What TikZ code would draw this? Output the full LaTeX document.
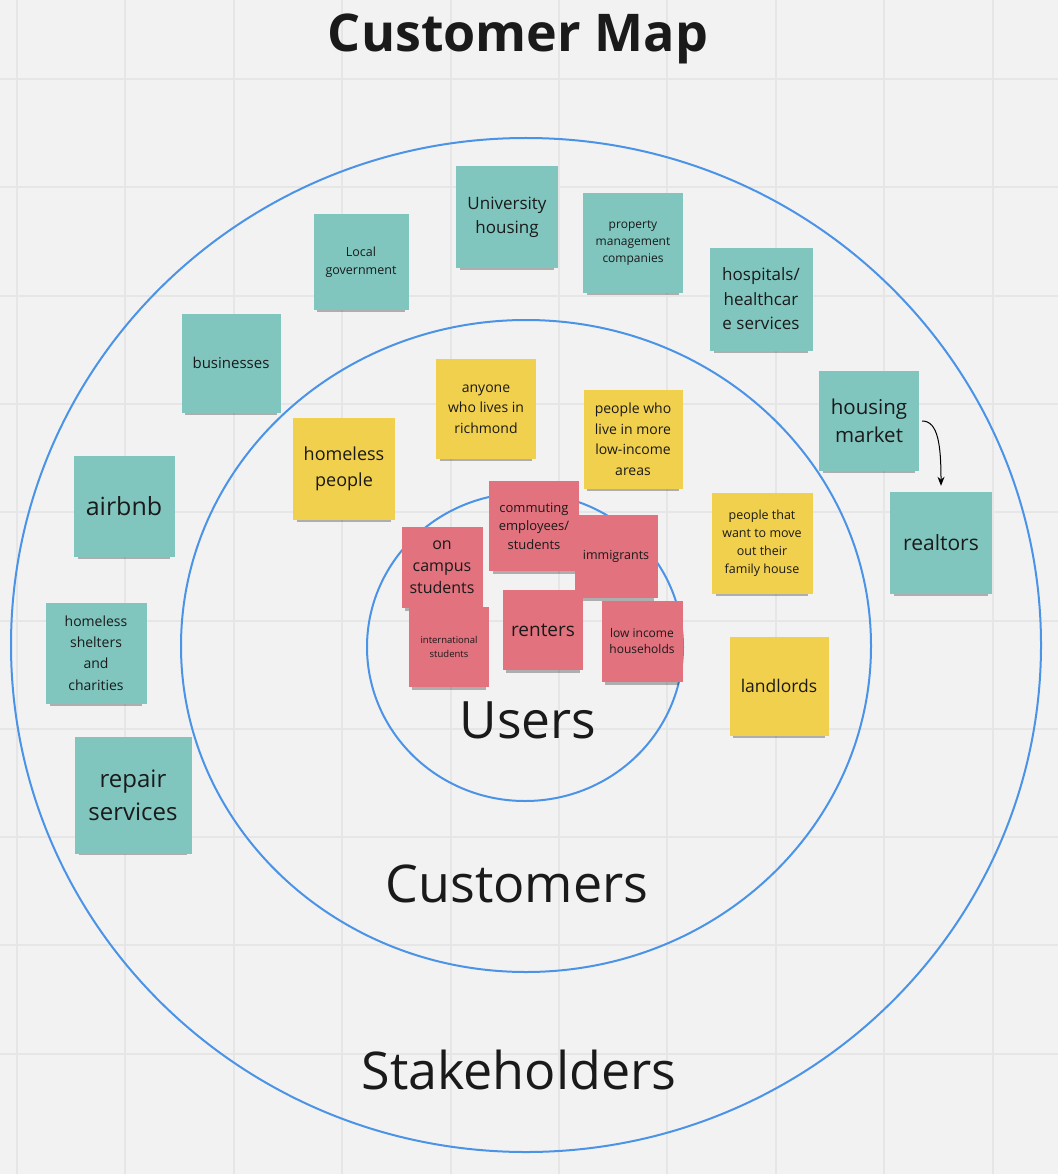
\documentclass[tikz,border=0pt]{standalone}
\usepackage{fontspec}
\setmainfont{Open Sans}
\usetikzlibrary{arrows.meta,shadows}
\definecolor{boardbg}{HTML}{F2F2F2}
\definecolor{gridgray}{HTML}{E6E6E6}
\definecolor{ringblue}{HTML}{4A93E6}
\definecolor{inkgray}{HTML}{1A1A1A}
\definecolor{noteteal}{HTML}{80C6BF}
\definecolor{noteyellow}{HTML}{F1D04E}
\definecolor{notepink}{HTML}{E1727E}
\tikzset{
	note/.style={align=center, inner sep=2pt, text=inkgray,
		drop shadow={shadow xshift=0pt, shadow yshift=-7pt, shadow scale=0.92, opacity=0.28, fill=black}},
	tealnote/.style={note, fill=noteteal, minimum width=#1, minimum height=#1},
	yellownote/.style={note, fill=noteyellow, minimum width=#1, minimum height=#1},
	pinknote/.style={note, fill=notepink, minimum width=#1, minimum height=#1},
	ring/.style={draw=ringblue, line width=2pt},
	fs/.style 2 args={font=\fontsize{#1}{#2}\selectfont}
}

\begin{document}
\begin{tikzpicture}[x=1pt, y=-1pt, >={Stealth[length=9pt, width=7pt]}]
	\useasboundingbox (0,0) rectangle (1058,1174);
	\fill[boardbg] (0,0) rectangle (1058,1174);
	\foreach \i in {0,...,9} {
		\draw[gridgray, line width=2pt] (17+\i*108.4,0) -- (17+\i*108.4,1174);
		\draw[gridgray, line width=2pt] (0,79+\i*108.3) -- (1058,79+\i*108.3);
	}
	\draw[ring] (526,645) ellipse [x radius=515, y radius=507];
	\draw[ring] (526,646) ellipse [x radius=345, y radius=326];
	\draw[ring] (525,647) ellipse [x radius=158, y radius=154];
	\node[font=\fontsize{52}{60}\selectfont\bfseries, text=inkgray] (title) at (518,39) {Customer Map};
	\node[fs={51.5}{60}, text=inkgray] (users) at (528,720) {Users};
	\node[fs={52}{60}, text=inkgray] (customers) at (517,884) {Customers};
	\node[fs={52}{60}, text=inkgray] (stakeholders) at (519,1070) {Stakeholders};
	\node[tealnote=102pt, fs={17}{24}] (univ) at (507,217) {University\\housing};
	\node[tealnote=100pt, fs={12}{17}] (property) at (633,243) {property\\management\\companies};
	\node[tealnote=95pt, fs={12.5}{18}] (localgov) at (361,262) {Local\\government};
	\node[tealnote=103pt, fs={17}{24.5}] (hospitals) at (761,299) {hospitals/\\healthcar\\e services};
	\node[tealnote=99pt, fs={15}{20}] (businesses) at (231,363) {businesses};
	\node[tealnote=100pt, fs={20.5}{28}] (market) at (869,421) {housing\\market};
	\node[tealnote=102pt, fs={21}{28}] (realtors) at (941,543) {realtors};
	\node[tealnote=101pt, fs={25}{30}] (airbnb) at (124,506) {airbnb};
	\node[tealnote=101pt, fs={14}{21.3}] (shelters) at (96,653) {homeless\\shelters\\and\\charities};
	\node[tealnote=117pt, fs={24}{33}] (repair) at (133,795) {repair\\services};
	\node[yellownote=100pt, fs={14}{20.5}] (anyone) at (486,409) {anyone\\who lives in\\richmond};
	\node[yellownote=102pt, fs={18}{26}] (homeless) at (344,469) {homeless\\people};
	\node[yellownote=99pt, fs={14}{20.5}] (lowarea) at (633,439) {people who\\live in more\\low-income\\areas};
	\node[yellownote=101pt, fs={12.5}{18}] (moveout) at (762,543) {people that\\want to move\\out their\\family house};
	\node[yellownote=99pt, fs={17.5}{24}] (landlords) at (779,686) {landlords};
	\node[pinknote=90pt, fs={13}{18.5}] (commuting) at (534,526) {commuting\\employees/\\students};
	\node[pinknote=83pt, fs={12.5}{17}] (immigrants) at (616,556) {immigrants};
	\node[pinknote=81pt, fs={16}{22}] (oncampus) at (442,567) {on\\campus\\students};
	\node[pinknote=80pt, fs={9.5}{14}] (intl) at (449,647) {international\\students};
	\node[pinknote=80pt, fs={19}{24}] (renters) at (543,630) {renters};
	\node[pinknote=81pt, fs={12}{16.5}] (lowincome) at (642,641) {low income\\households};
	\draw[->, line width=1pt, black] ([xshift=3pt]market.east) .. controls +(16,0) and +(0,-40) .. ([yshift=6pt]realtors.north);
\end{tikzpicture}
\end{document}
